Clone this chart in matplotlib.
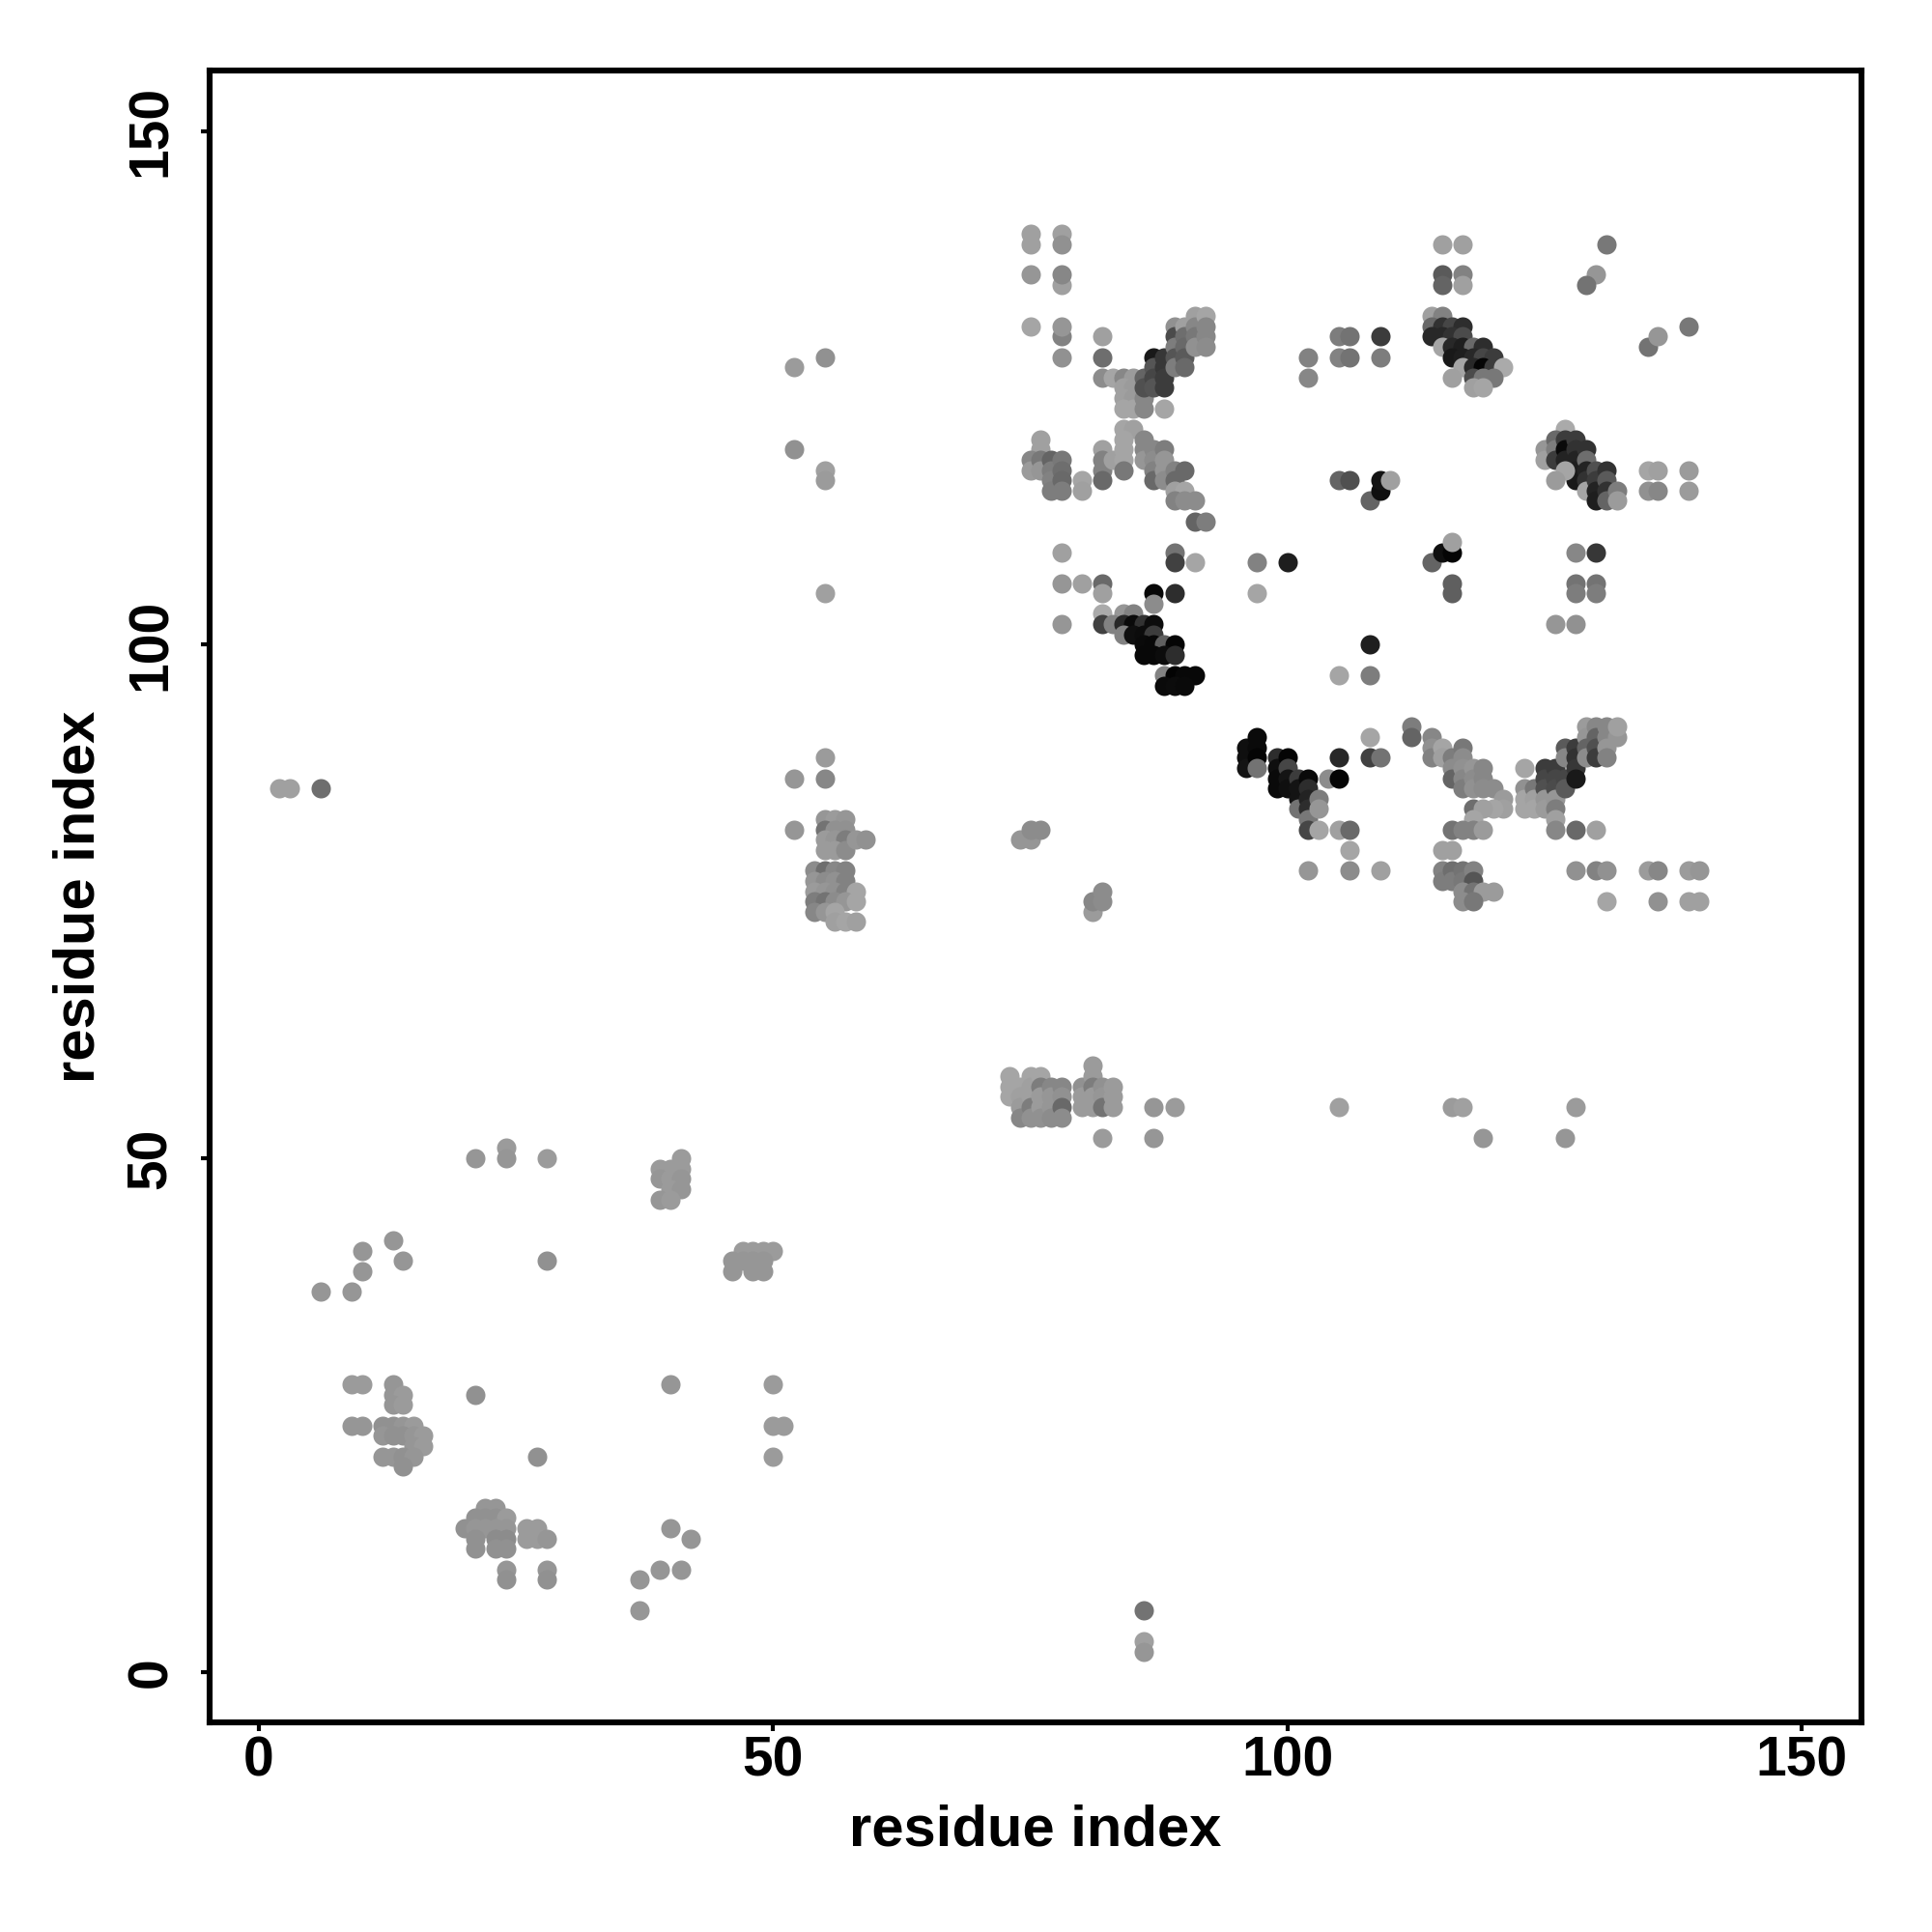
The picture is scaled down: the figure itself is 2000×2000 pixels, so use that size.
import matplotlib
matplotlib.use("Agg")
import matplotlib.pyplot as plt

plt.rcParams['font.family'] = ['Liberation Sans', 'DejaVu Sans']

x_ticks = [0, 50, 100, 150]
y_ticks = [0, 50, 100, 150]
axis_label = "residue index"

# (residue i, residue j, grey level)
low_left = [(2,86,160),(3,86,160),(6,86,110),(37,6,150),(37,9,150),(39,10,150),(41,10,150),(40,14,150),(42,13,150),
 (86,6,115),(86,3,160),(86,2,150),(21,27,145),(27,21,145),(40,28,150),(50,28,155),(50,24,155),(51,24,155),(50,21,155),
 (6,37,150),(9,37,150),(10,39,150),(10,41,150),(13,42,150),(14,40,150),(28,40,145),
 (21,50,150),(24,51,155),(24,50,150),(28,50,155),(9,28,155),(10,28,155),(9,24,150),(10,24,150)]
cluster_13 = [(13,28,150),(13,27,150),(14,27,155),(13,26,150),(14,26,155),(12,24,145),(13,24,145),(14,24,150),(15,24,155),
 (12,23,150),(13,23,145),(14,23,145),(15,23,150),(16,23,155),(15,22,150),(16,22,155),
 (12,21,150),(13,21,150),(14,21,145),(15,21,150),(14,20,145)]
cluster_22 = [(22,16,150),(23,16,150),(21,15,145),(22,15,145),(23,15,145),(24,15,155),(20,14,145),(21,14,150),(22,14,150),
 (23,14,150),(24,14,150),(21,13,145),(23,13,140),(24,13,140),(21,12,145),(23,12,145),(24,12,145),
 (26,14,155),(27,14,155),(26,13,155),(27,13,155),(28,13,150),(24,10,150),(24,9,145),(28,10,150),(28,9,145)]
cluster_40 = [(41,50,155),(41,49,155),(39,49,155),(40,49,155),(39,48,150),(40,48,155),(41,48,150),(40,47,155),(41,47,150),
 (39,46,150),(40,46,155),(47,41,155),(48,41,155),(49,41,155),(50,41,155),(46,40,150),(47,40,150),(48,40,150),(49,40,150),
 (46,39,150),(48,39,150),(49,39,150)]
cluster_55 = [(55,89,155),(52,87,150),(55,87,135),(52,82,150),
 (55,83,150),(56,83,155),(57,83,150),(55,82,115),(56,82,145),(57,82,145),(55,81,155),(56,81,150),(57,81,125),
 (55,80,155),(56,80,155),(57,80,140),(58,81,150),(59,81,145),
 (54,78,140),(55,78,110),(56,78,135),(57,78,130),(54,77,150),(55,77,140),(56,77,145),(57,77,130),
 (54,76,155),(55,76,150),(56,76,145),(57,76,130),(58,76,165),(54,75,125),(55,75,115),(56,75,140),(57,75,150),(58,75,165),
 (54,74,135),(55,74,150),(56,74,165),(56,73,160),(57,73,165),(58,73,160),
 (74,81,150),(75,81,150),(75,82,140),(76,82,140),(81,74,155),(81,75,135),(82,75,140),(82,76,140)]
cluster_58 = [(73,58,165),(73,57,165),(73,56,165),(74,57,165),(74,56,160),(74,55,155),(74,54,135),
 (75,58,165),(75,57,160),(75,56,160),(75,55,125),(75,54,145),(76,58,165),(76,57,125),(76,56,155),(76,55,155),(76,54,145),
 (77,57,135),(77,56,150),(77,55,150),(77,54,140),(78,57,135),(78,56,145),(78,55,105),(78,54,140),
 (80,57,145),(80,56,155),(80,55,155),(81,59,155),(81,58,155),(81,57,125),(81,56,155),(81,55,155),
 (82,57,145),(82,56,150),(82,55,115),(83,57,155),(83,56,155),(83,55,155),
 (82,52,155),(87,52,150),(87,55,150),(89,55,155),(105,55,160),(116,55,155),(117,55,160),(119,52,150),(127,52,150),(128,55,155)]
cluster_97 = [(96,90,15),(96,89,15),(96,88,20),(97,91,10),(97,90,10),(97,89,5),(97,88,115),
 (99,89,45),(99,88,15),(99,87,10),(99,86,10),(100,89,5),(100,88,70),(100,87,20),(100,86,15),
 (101,87,60),(101,86,20),(101,85,20),(101,84,115),(102,87,10),(102,86,45),(102,85,35),(102,84,45),(102,83,120),
 (102,82,70),(103,85,125),(103,84,150),(103,82,165),(104,87,140),(105,87,5),(105,89,40),(105,82,160),(106,82,105),(106,80,165),
 (102,78,150),(106,78,140),(109,78,160),(108,91,165),(108,89,65),(109,89,115),(112,92,125),(112,91,100)]
cluster_116 = [(114,91,135),(114,90,145),(114,89,130),(115,90,165),(115,89,160),(116,89,125),(116,88,140),(116,87,100),
 (117,90,120),(117,89,140),(117,88,145),(117,87,135),(117,86,125),(118,88,150),(118,87,140),(118,86,145),
 (119,88,135),(119,87,135),(119,86,140),(120,86,140),(121,85,155),(121,84,160),(120,84,165),(118,84,110),(119,84,160),(118,83,165),
 (116,82,115),(117,82,130),(118,82,130),(119,82,155),(115,80,160),(116,80,160),
 (115,78,130),(115,77,125),(116,78,110),(116,77,125),(117,78,115),(117,77,120),(118,78,130),(118,77,85),
 (117,76,140),(118,76,115),(119,76,155),(120,76,155),(117,75,140),(118,75,120)]
cluster_126 = [(123,88,165),(123,86,145),(123,85,165),(123,84,165),(124,86,120),(124,85,160),(124,84,165),
 (125,88,60),(125,87,70),(125,86,80),(125,85,150),(125,84,155),(126,88,60),(126,87,70),(126,86,75),(126,85,150),(126,84,125),
 (126,83,160),(126,82,135),(127,90,90),(127,89,135),(127,87,70),(127,86,90),(128,90,60),(128,89,50),(128,88,55),(128,87,25),
 (128,82,105),(129,92,155),(129,91,150),(129,90,100),(129,89,140),(130,92,135),(130,91,100),(130,90,80),(130,89,60),
 (130,82,160),(131,92,135),(131,91,135),(131,90,150),(131,89,130),(132,91,150),(132,92,160),
 (128,78,145),(130,78,130),(131,78,145),(135,78,155),(136,78,135),(139,78,155),(140,78,150),
 (131,75,165),(136,75,145),(139,75,160),(140,75,160)]
upper_x = [(75,140,160),(75,139,160),(78,140,160),(78,139,145),(75,136,150),(78,135,160),(78,136,135),(75,131,165),(78,130,130),(78,131,150),(78,128,145),
 (82,130,160),(82,128,110),(82,126,140),(83,126,165),(84,126,135),(85,126,155),
 (84,125,160),(85,125,155),(84,124,160),(85,124,155),(84,123,165),(85,123,165),(86,124,135),(86,123,135),
 (86,126,100),(86,125,80),(87,128,25),(87,127,85),(87,126,70),(87,125,85),
 (88,128,55),(88,127,55),(88,126,60),(88,125,60),(88,123,165),
 (89,131,145),(89,130,75),(89,129,125),(89,128,85),(89,127,125),(90,131,160),(90,130,110),(90,129,105),(90,128,90),(90,127,105),
 (91,132,160),(91,131,135),(91,130,120),(91,129,145),(92,132,165),(92,131,135),(92,130,135),(92,129,140)]
upper_119 = [(76,120,160),(76,119,160),(75,118,135),(75,117,155),(76,118,120),(76,117,150),
 (77,118,100),(77,117,125),(77,116,130),(77,115,125),(78,118,120),(78,117,110),(78,116,105),(78,115,125),(80,116,165),(80,115,160),
 (82,119,160),(82,118,130),(82,117,130),(82,116,105),(83,118,160),(84,121,165),(85,121,160),(84,120,165),(84,119,165),(84,118,165),(84,117,120),
 (86,120,135),(86,119,135),(86,118,150),(87,119,135),(87,118,140),(87,117,130),(87,116,105),(88,119,125),(88,118,150),(88,117,150),(88,116,140),
 (89,117,130),(89,116,105),(89,115,160),(90,117,105),(90,115,165),(89,114,130),(90,114,140),(91,114,140),(91,112,100),(92,112,125)]
cluster_102 = [(78,109,160),(89,109,115),(89,108,65),(91,108,165),(78,106,150),(80,106,160),(82,106,105),(82,105,160),(87,105,8),(89,105,45),(87,104,140),
 (82,103,170),(84,103,150),(85,103,130),(78,102,150),(82,102,65),(83,102,130),(84,102,40),(85,102,10),(86,102,50),(87,102,12),
 (84,101,130),(85,101,15),(86,101,12),(87,101,60),(86,100,10),(87,100,8),(88,100,95),(89,100,5),
 (86,99,8),(87,99,8),(88,99,12),(89,99,45),(88,97,130),(89,97,3),(90,97,8),(91,97,8),(88,96,10),(89,96,12),(90,96,10)]
upper_right_a = [(114,132,160),(115,132,130),(114,131,105),(115,131,50),(116,131,70),(117,131,45),(114,130,40),(115,130,40),(116,130,50),(117,130,75),
 (115,129,165),(116,129,40),(117,129,30),(118,129,105),(119,129,45),(116,128,25),(117,128,30),(118,128,40),(119,128,70),(120,128,60),
 (117,127,165),(118,127,40),(119,127,5),(120,127,60),(121,127,170),(116,126,160),(118,126,75),(119,126,120),(120,126,120),(118,125,160),(119,125,165)]
upper_right_b = [(127,121,170),(125,119,150),(125,118,160),(126,120,105),(126,119,125),(126,118,60),(127,120,60),(127,119,10),(127,118,35),
 (128,120,60),(128,119,50),(128,118,35),(128,117,30),(128,116,25),(127,117,165),(126,116,155),(129,119,50),(129,118,110),(129,117,35),(129,116,50),(129,115,165),
 (130,117,80),(130,116,60),(130,115,35),(130,114,30),(131,117,50),(131,116,90),(131,115,50),(131,114,100),(132,115,125),(132,114,155)]
scattered = [(97,108,130),(100,108,30),(97,105,165),(108,100,30),(105,97,165),(108,97,125),
 (102,128,130),(102,126,135),(105,130,125),(106,130,115),(105,128,130),(106,128,115),(109,130,60),(109,128,125),
 (105,116,100),(106,116,80),(108,114,100),(109,115,15),(109,116,20),(110,116,160),
 (114,108,100),(115,109,15),(116,109,5),(116,110,160),(116,106,95),(116,105,95),
 (126,102,150),(128,102,145),(128,109,135),(130,109,55),(128,106,115),(130,106,115),(128,105,125),(130,105,125),
 (115,139,160),(117,139,160),(115,136,90),(117,136,130),(115,135,100),(117,135,160),(131,139,120),(130,136,150),(129,135,115),
 (135,129,115),(136,130,150),(139,131,120),(135,117,165),(136,117,160),(139,117,155),(135,115,145),(136,115,135),(139,115,155),
 (52,127,155),(55,128,145),(52,119,145),(55,117,160),(55,116,155),(55,105,160)]

groups = [low_left, cluster_13, cluster_22, cluster_40, cluster_55, cluster_58, cluster_97, cluster_116,
          cluster_126, upper_x, upper_119, cluster_102, upper_right_a, upper_right_b, scattered]

fig = plt.figure(figsize=(10, 10), dpi=200)
ax = fig.add_axes([217/2000, 1 - 1783/2000, (1927-217)/2000, (1783-73)/2000])
for group in groups:
    xs = [p[0] for p in group]
    ys = [p[1] for p in group]
    cs = [(p[2]/255, p[2]/255, p[2]/255) for p in group]
    for x, y, c in zip(xs, ys, cs):
        ax.scatter([x], [y], s=52, color=[c], linewidths=0, zorder=2)

ax.set_xlim(-4.8, 155.8)
ax.set_ylim(-4.9, 155.88)
ax.set_xticks(x_ticks)
ax.set_yticks(y_ticks)
for s in ax.spines.values():
    s.set_linewidth(2.2)
ax.tick_params(axis='both', length=3.2, width=1.5, labelsize=20.5)
ax.tick_params(axis='x', pad=1.8)
ax.tick_params(axis='y', pad=8.6)
for t in ax.get_xticklabels():
    t.set_fontweight('bold')
for t in ax.get_yticklabels():
    t.set_fontweight('bold')
    t.set_rotation(90)
    t.set_va('center')
ax.set_xlabel(axis_label, fontsize=21.5, fontweight='bold', labelpad=6)
ax.set_ylabel(axis_label, fontsize=21.5, fontweight='bold', labelpad=7.4)
fig.savefig("out.png", dpi=200, facecolor='white')
